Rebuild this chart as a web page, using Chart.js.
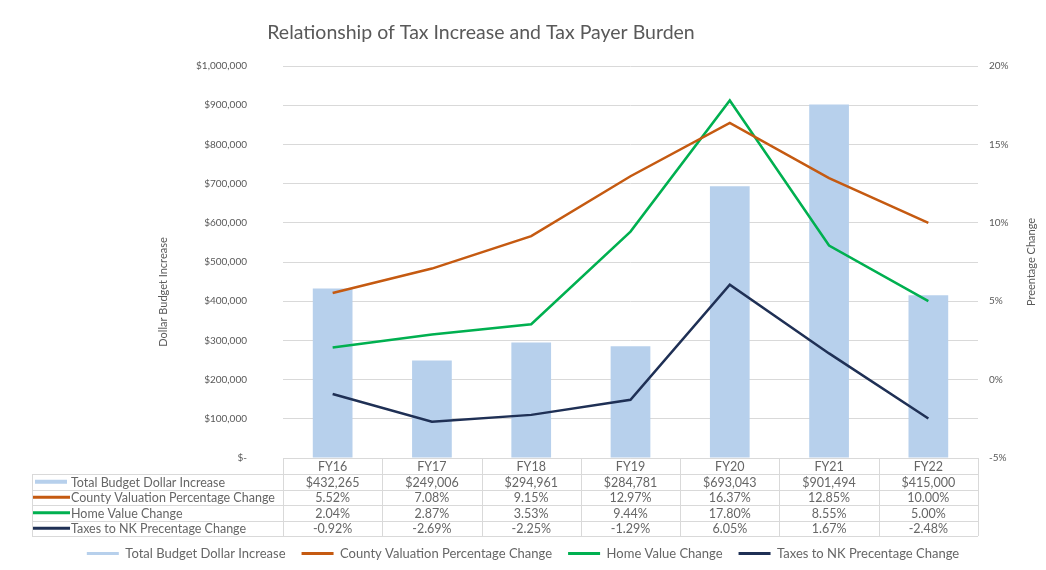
<!DOCTYPE html>
<html>
<head>
<meta charset="utf-8">
<script src="https://cdn.jsdelivr.net/npm/chart.js@4"></script>
<style>
html,body{margin:0;padding:0;background:#fff;}
#wrap{width:1046px;height:570px;position:relative;}
</style>
</head>
<body>
<div id="wrap"><canvas id="c" width="1046" height="570"></canvas></div>
<script>
const categories = ['FY16','FY17','FY18','FY19','FY20','FY21','FY22'];
const budgetIncrease = [432265, 249006, 294961, 284781, 693043, 901494, 415000];
const countyValuation = [5.52, 7.08, 9.15, 12.97, 16.37, 12.85, 10.00];
const homeValue = [2.04, 2.87, 3.53, 9.44, 17.80, 8.55, 5.00];
const taxesToNK = [-0.92, -2.69, -2.25, -1.29, 6.05, 1.67, -2.48];
const leftTickLabels = ['$-','$100,000','$200,000','$300,000','$400,000','$500,000','$600,000','$700,000','$800,000','$900,000','$1,000,000'];
const rightTickLabels = ['-5%','0%','5%','10%','15%','20%'];
const seriesNames = ['Total Budget Dollar Increase','County Valuation Percentage Change','Home Value Change','Taxes to NK Precentage Change'];
const titleText = 'Relationship of Tax Increase and Tax Payer Burden';
const leftTitle = 'Dollar Budget Increase';
const rightTitle = 'Preentage Change';

const FONT = 'Lato, "Open Sans", sans-serif';
const GREY = '#595959';
const colors = ['#b7d0ec', '#c55a11', '#00b050', '#1f3055'];

const fmtDollar = v => '$' + v.toLocaleString('en-US');
const fmtPct = v => v.toFixed(2) + '%';

const extrasPlugin = {
  id: 'extras',
  afterDraw(chart) {
    const ctx = chart.ctx;
    const x = chart.scales.x;
    const ca = chart.chartArea;
    ctx.save();
    ctx.fillStyle = GREY;
    ctx.font = '19.5px ' + FONT;
    ctx.textAlign = 'center';
    ctx.textBaseline = 'middle';
    ctx.fillText(titleText, 481, 33);
    ctx.font = '11px ' + FONT;
    ctx.save();
    ctx.translate(163, 292);
    ctx.rotate(-Math.PI/2);
    ctx.fillText(leftTitle, 0, 0);
    ctx.restore();
    ctx.save();
    ctx.translate(1031, 262);
    ctx.rotate(-Math.PI/2);
    ctx.fillText(rightTitle, 0, 0);
    ctx.restore();

    const n = categories.length;
    const colW = (ca.right - ca.left) / n;
    const top = ca.bottom;
    const hdrH = 16;
    const rowH = 15.5;
    const rows = [
      budgetIncrease.map(fmtDollar),
      countyValuation.map(fmtPct),
      homeValue.map(fmtPct),
      taxesToNK.map(fmtPct)
    ];
    const bottom = top + hdrH + rowH * rows.length;
    const labelLeft = 32;
    ctx.strokeStyle = '#d9d9d9';
    ctx.lineWidth = 1;
    ctx.beginPath();
    ctx.moveTo(ca.left, top + 0.5); ctx.lineTo(ca.right, top + 0.5);
    for (let r = 0; r <= rows.length; r++) {
      const yy = Math.round(top + hdrH + r * rowH) + 0.5;
      ctx.moveTo(labelLeft, yy); ctx.lineTo(ca.right, yy);
    }
    for (let i = 0; i <= n; i++) {
      const xx = Math.round(ca.left + i * colW) + 0.5;
      ctx.moveTo(xx, top); ctx.lineTo(xx, bottom);
    }
    ctx.moveTo(labelLeft + 0.5, top + hdrH); ctx.lineTo(labelLeft + 0.5, bottom);
    ctx.stroke();

    ctx.fillStyle = '#666666';
    ctx.font = '12.5px ' + FONT;
    ctx.textAlign = 'center';
    for (let i = 0; i < n; i++) {
      const cx = x.getPixelForValue(i);
      ctx.fillText(categories[i], cx, top + hdrH / 2 + 1);
      rows.forEach((row, r) => {
        ctx.fillText(row[i], cx, top + hdrH + rowH * r + rowH / 2 + 1);
      });
    }
    ctx.textAlign = 'left';
    seriesNames.forEach((name, r) => {
      const cy = top + hdrH + rowH * r + rowH / 2;
      ctx.fillStyle = colors[r];
      if (r === 0) ctx.fillRect(35, cy - 2, 32, 4);
      else ctx.fillRect(33, cy - 1.5, 37, 3);
      ctx.fillStyle = '#666666';
      ctx.fillText(name, 71, cy + 1);
    });
    ctx.restore();
  }
};

new Chart(document.getElementById('c'), {
  data: {
    labels: categories,
    datasets: [
      { type: 'bar', label: seriesNames[0], data: budgetIncrease, backgroundColor: colors[0], yAxisID: 'y', order: 1, barPercentage: 0.4, categoryPercentage: 1 },
      { type: 'line', label: seriesNames[1], data: countyValuation, borderColor: colors[1], backgroundColor: colors[1], borderWidth: 2.5, pointRadius: 0, tension: 0, yAxisID: 'y1', order: 0 },
      { type: 'line', label: seriesNames[2], data: homeValue, borderColor: colors[2], backgroundColor: colors[2], borderWidth: 2.5, pointRadius: 0, tension: 0, yAxisID: 'y1', order: 0 },
      { type: 'line', label: seriesNames[3], data: taxesToNK, borderColor: colors[3], backgroundColor: colors[3], borderWidth: 2.5, pointRadius: 0, tension: 0, yAxisID: 'y1', order: 0 }
    ]
  },
  options: {
    responsive: false,
    animation: false,
    layout: { padding: { left: 0, right: 0, top: 66, bottom: 0 } },
    plugins: {
      tooltip: { enabled: false },
      title: { display: false },
      legend: {
        position: 'bottom',
        labels: {
          font: { family: FONT, size: 13 },
          color: '#666666',
          boxWidth: 32,
          boxHeight: 3,
          padding: 16,
          sort: (a, b) => a.datasetIndex - b.datasetIndex,
          generateLabels(chart) {
            const items = Chart.defaults.plugins.legend.labels.generateLabels(chart);
            items.forEach(it => { it.lineWidth = 0; it.strokeStyle = 'rgba(0,0,0,0)'; });
            return items;
          }
        }
      }
    },
    scales: {
      x: {
        type: 'category',
        offset: true,
        grid: { display: false },
        border: { display: false },
        ticks: { display: false },
        afterFit(scale) { scale.height = 73; }
      },
      y: {
        type: 'linear',
        position: 'left',
        min: 0, max: 1000000,
        ticks: {
          stepSize: 100000,
          color: GREY,
          font: { family: FONT, size: 10 },
          padding: 36,
          callback: (v, i) => leftTickLabels[i]
        },
        grid: { color: '#d9d9d9', drawTicks: false },
        border: { display: false },
        afterFit(scale) { scale.width = 283; }
      },
      y1: {
        type: 'linear',
        position: 'right',
        min: -5, max: 20,
        ticks: {
          stepSize: 5,
          color: GREY,
          font: { family: FONT, size: 10 },
          padding: 11,
          crossAlign: 'near',
          callback: (v, i) => rightTickLabels[i]
        },
        grid: { display: false, drawTicks: false },
        border: { display: false },
        afterFit(scale) { scale.width = 68; }
      }
    }
  },
  plugins: [extrasPlugin]
});
</script>
</body>
</html>
